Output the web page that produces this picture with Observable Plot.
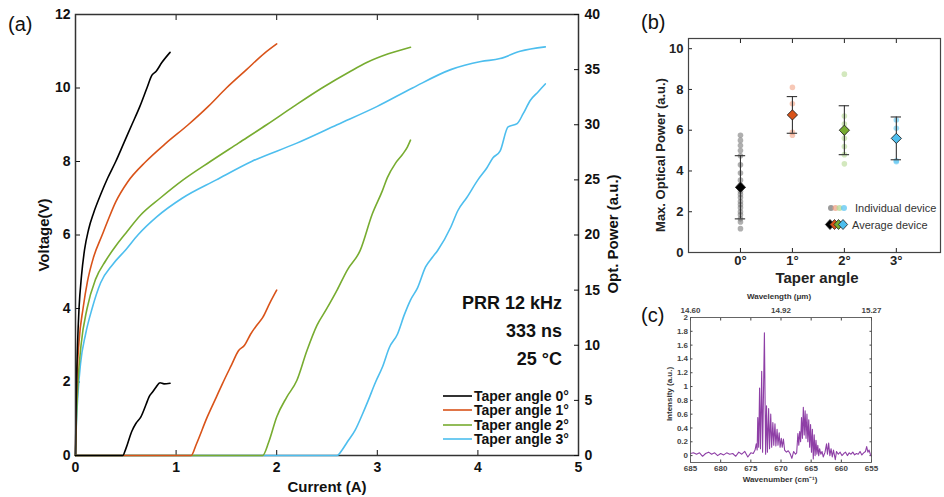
<!DOCTYPE html>
<html><head><meta charset="utf-8">
<script src="https://cdn.jsdelivr.net/npm/d3@7"></script>
<script src="https://cdn.jsdelivr.net/npm/@observablehq/plot@0.6"></script>
<style>
body{margin:0;background:#fff;overflow:hidden}
#root{position:relative;width:944px;height:497px;overflow:hidden;font-family:"Liberation Sans",Arial,sans-serif;background:#fff}
#root svg{position:absolute;overflow:visible}
.t{position:absolute;white-space:nowrap;line-height:1}
</style></head><body><div id="root"></div><script>
// ---------- Panel (a) data ----------
const seriesNames = ["Taper angle 0°", "Taper angle 1°", "Taper angle 2°", "Taper angle 3°"];
const seriesColors = ["#000000", "#D95319", "#77AC30", "#4DBEEE"];
const currentTicks = [0, 1, 2, 3, 4, 5];
const voltTicks = [0, 2, 4, 6, 8, 10, 12];
const powerTicks = [0, 5, 10, 15, 20, 25, 30, 35, 40];
// Voltage (V) vs current (A)
const voltBlack = [[0,0],[0.004,1.0],[0.01,2.0],[0.02,3.0],[0.035,4.0],[0.06,4.9],[0.09,5.6],[0.13,6.15],[0.18,6.6],[0.25,7.1],[0.32,7.55],[0.4,8.0],[0.48,8.5],[0.56,9.0],[0.64,9.5],[0.71,10.0],[0.76,10.35],[0.8,10.45],[0.86,10.7],[0.94,10.97]];
const voltOrange = [[0,0],[0.006,1.2],[0.016,2.2],[0.035,3.1],[0.075,4.0],[0.12,4.75],[0.18,5.4],[0.265,6.0],[0.33,6.45],[0.4,6.9],[0.52,7.45],[0.7,8.0],[0.9,8.5],[1.12,9.0],[1.32,9.5],[1.5,10.0],[1.7,10.5],[1.88,10.95],[2.0,11.2]];
const voltGreen = [[0,0],[0.008,0.9],[0.025,2.0],[0.055,3.0],[0.115,4.0],[0.2,4.8],[0.3,5.3],[0.4,5.7],[0.5,6.05],[0.65,6.55],[0.84,7.0],[1.07,7.5],[1.34,8.0],[1.62,8.5],[1.9,9.0],[2.17,9.5],[2.45,10.0],[2.73,10.45],[2.9,10.7],[3.11,10.93],[3.33,11.11]];
const voltBlue = [[0,0],[0.008,0.8],[0.025,1.7],[0.05,2.5],[0.1,3.3],[0.165,4.0],[0.25,4.7],[0.37,5.2],[0.5,5.6],[0.62,6.0],[0.81,6.5],[1.06,7.0],[1.4,7.5],[1.75,8.0],[2.2,8.5],[2.6,9.0],[3.0,9.5],[3.35,10.0],[3.73,10.5],[4.03,10.72],[4.22,10.8],[4.42,11.0],[4.67,11.12]];
// Optical power (a.u.) vs current (A)
const powBlack = [[0,0],[0.47,0],[0.5,0.6],[0.56,2.2],[0.6,2.9],[0.65,3.5],[0.7,4.6],[0.73,5.3],[0.77,5.8],[0.8,6.2],[0.84,6.6],[0.88,6.5],[0.94,6.55]];
const powOrange = [[0,0],[1.15,0],[1.2,1.0],[1.31,3.5],[1.4,5.3],[1.46,6.5],[1.55,8.2],[1.62,9.5],[1.68,10.0],[1.74,11.0],[1.8,11.8],[1.86,12.5],[1.93,13.8],[2.0,15.0]];
const powGreen = [[0,0],[1.86,0],[1.92,1.2],[2.0,3.5],[2.1,5.3],[2.2,6.8],[2.3,9.5],[2.4,11.8],[2.49,13.2],[2.6,15.0],[2.7,16.8],[2.83,18.6],[2.95,21.9],[3.05,24.0],[3.1,25.2],[3.18,26.5],[3.25,27.3],[3.3,28.0],[3.33,28.6]];
const powBlue = [[0,0],[2.6,0],[2.65,0.5],[2.7,1.2],[2.78,2.3],[2.85,3.7],[2.91,5.0],[2.98,6.6],[3.05,8.0],[3.12,9.8],[3.2,11.0],[3.27,12.8],[3.33,14.1],[3.4,15.2],[3.48,17.1],[3.55,18.0],[3.6,18.6],[3.73,20.7],[3.8,22.2],[3.89,23.4],[4.0,25.0],[4.09,26.1],[4.15,27.0],[4.22,27.6],[4.3,29.8],[4.39,30.1],[4.45,31.0],[4.52,32.2],[4.6,33.0],[4.67,33.7]];
const annotationLines = ["PRR 12 kHz", "333 ns", "25 °C"];

// ---------- Panel (b) data ----------
const angleValues = [0, 1, 2, 3];
const indiv0 = [1.17,1.5,1.65,1.85,2.0,2.2,2.35,2.5,2.7,2.85,3.0,3.3,3.55,3.9,4.3,4.75,5.0,5.25,5.5,5.75];
const indiv1 = [5.75,5.9,6.8,7.3,8.1];
const indiv2 = [4.35,4.8,5.2,5.6,5.9,6.3,6.7,8.75];
const indiv3 = [4.45,4.5,6.1,6.5];
const avgPower = [3.2, 6.75, 6.0, 5.6];
const sdPower = [1.55, 0.9, 1.2, 1.05];
const indivColors = ["#7a7a7a", "#F2A385", "#B5D993", "#5CC6F2"];
const avgColors = ["#000000", "#D95319", "#77AC30", "#4DBEEE"];
const bTicksY = [0, 2, 4, 6, 8, 10];

// ---------- Panel (c) data ----------
const wnTicks = [685, 680, 675, 670, 665, 660, 655];
const wlTickWn = [685, 670, 655];
const wlLabels = ["14.60", "14.92", "15.27"];
const intTicks = [0, 0.2, 0.4, 0.6, 0.8, 1, 1.2, 1.4, 1.6, 1.8, 2];
const spectrum = [[685,0.03],[684.5,0.04],[684,0.02],[683.5,0.04],[683,-0.01],[682.5,0.03],[682,0.05],[681.5,0.02],[681,0.04],[680.5,0.0],[680,0.03],[679.5,0.01],[679,0.04],[678.5,0.02],[678,0.03],[677.5,-0.01],[677,0.05],[676.5,0.02],[676,0.06],[675.5,-0.02],[675,0.04],[674.6,0.03],[674.3,0.08],
[674.1,0.17],[673.95,0.08],[673.85,0.55],[673.7,0.12],[673.55,0.98],[673.4,0.1],[673.2,1.22],[673.05,0.05],[672.75,1.78],[672.55,0.02],[672.4,0.72],[672.25,0.05],[672.05,0.68],[671.9,0.1],[671.7,0.6],[671.55,0.12],[671.35,0.48],[671.2,0.15],[671.0,0.46],[670.85,0.14],[670.65,0.38],[670.5,0.15],[670.3,0.33],[670.15,0.12],[669.95,0.25],[669.8,0.12],[669.6,0.24],[669.4,0.08],[669.1,0.05],[668.8,0.07],[668.5,0.03],[668.2,-0.04],[667.9,0.06],[667.6,0.02],[667.4,0.04],
[667.2,0.32],[667.05,0.15],[666.9,0.35],[666.75,0.2],[666.6,0.55],[666.45,0.25],[666.3,0.7],[666.15,0.3],[666.0,0.65],[665.85,0.25],[665.7,0.6],[665.55,0.2],[665.4,0.52],[665.25,0.12],[665.1,0.45],[664.95,0.05],[664.8,0.38],[664.65,-0.05],[664.5,0.3],[664.35,0.0],[664.2,0.22],[664.05,0.02],[663.9,0.15],[663.75,0.0],[663.6,0.1],[663.4,0.02],[663.2,0.06],[663.0,-0.02],[662.7,0.05],[662.45,0.17],[662.3,0.02],[662.1,0.18],[661.9,0.0],[661.7,0.1],[661.5,-0.02],[661.3,0.08],[661.0,-0.06],[660.8,0.06],[660.5,0.02],[660.2,0.05],[659.9,0.0],[659.6,0.03],[659.3,0.05],[659.0,0.0],[658.7,0.04],[658.4,0.02],[658.1,0.05],[657.8,0.01],[657.5,0.03],[657.2,0.02],[656.9,0.06],[656.6,0.01],[656.3,0.04],[656.0,0.06],[655.8,0.13],[655.6,0.05],[655.4,0.08],[655.2,0.02],[655.0,-0.01]];

// ---------- build ----------
const root = document.getElementById("root");
const FONT = "Liberation Sans, Arial, sans-serif";
function place(svg, left, top) { svg.style.left = left + "px"; svg.style.top = top + "px"; root.appendChild(svg); }
function label(txt, x, y, o = {}) {
  const d = document.createElement("div");
  d.className = "t"; d.textContent = txt;
  const tx = o.anchor === "end" ? "-100%" : o.anchor === "start" ? "0" : "-50%";
  d.style.left = x + "px"; d.style.top = y + "px";
  d.style.fontSize = (o.size || 14) + "px";
  d.style.fontWeight = o.weight || "bold";
  d.style.color = o.color || "#111";
  d.style.transform = `translate(${tx},-50%)` + (o.rotate ? ` rotate(${o.rotate}deg)` : "");
  root.appendChild(d);
}
const rows = (pts, s) => pts.map(([i, v]) => ({s, i, v}));
const vRows = [voltBlue, voltGreen, voltOrange, voltBlack].flatMap((p, k) => rows(p, seriesNames[3 - k]));
const pRows = [powBlue, powGreen, powOrange, powBlack].flatMap((p, k) => rows(p, seriesNames[3 - k]));
const styleA = {background: "transparent", fontFamily: FONT, fontSize: "14px", fontWeight: "bold", color: "#111", overflow: "visible"};

const a1 = Plot.plot({
  width: 620, height: 497, marginLeft: 75, marginRight: 42, marginTop: 14, marginBottom: 42,
  style: styleA,
  x: {domain: [0, 5]}, y: {domain: [0, 12]},
  color: {domain: seriesNames, range: seriesColors},
  marks: [
    Plot.axisX({ticks: currentTicks, tickSize: -5, tickPadding: 12, tickFormat: d => String(d), label: null}),
    Plot.axisX({anchor: "top", ticks: currentTicks, tickSize: -5, tickFormat: () => "", label: null}),
    Plot.axisY({ticks: voltTicks, tickSize: -5, tickPadding: 10, tickFormat: d => String(d), label: null}),
    Plot.line(vRows, {x: "i", y: "v", z: "s", stroke: "s", strokeWidth: 1.6, curve: "monotone-x"}),
    Plot.frame({stroke: "#333", strokeWidth: 1.5})
  ]
});
place(a1, 0, 0);
const a2 = Plot.plot({
  width: 620, height: 497, marginLeft: 75, marginRight: 42, marginTop: 14, marginBottom: 42,
  style: styleA,
  x: {domain: [0, 5], axis: null}, y: {domain: [0, 40]},
  color: {domain: seriesNames, range: seriesColors},
  marks: [
    Plot.axisY({anchor: "right", ticks: powerTicks, tickSize: -5, tickPadding: 11, tickFormat: d => String(d), label: null}),
    Plot.line(pRows, {x: "i", y: "v", z: "s", stroke: "s", strokeWidth: 1.6, curve: "monotone-x"})
  ]
});
place(a2, 0, 0);

label("(a)", 8, 24, {anchor: "start", size: 20, weight: "normal"});
label("Voltage(V)", 43, 235, {size: 15, rotate: -90});
label("Current (A)", 327, 486, {size: 15});
label("Opt. Power (a.u.)", 612, 234, {size: 15, rotate: -90});
annotationLines.forEach((t, k) => label(t, 562, 303 + k * 28, {anchor: "end", size: 18}));
// legend (a)
seriesNames.forEach((n, k) => {
  const y = 396 + k * 14.4;
  const sw = document.createElementNS("http://www.w3.org/2000/svg", "svg");
  sw.setAttribute("width", 30); sw.setAttribute("height", 4);
  sw.innerHTML = `<line x1="0" x2="29" y1="2" y2="2" stroke="${seriesColors[k]}" stroke-width="1.6"/>`;
  place(sw, 443, y - 2);
  label(n, 474, y, {anchor: "start", size: 14});
});

// ---------- Panel (b) ----------
const indivRows = [indiv0, indiv1, indiv2, indiv3].flatMap((arr, k) => arr.map(v => ({a: angleValues[k], v, c: indivColors[k]})));
const avgRows = angleValues.map((a, k) => ({a, m: avgPower[k], lo: avgPower[k] - sdPower[k], hi: avgPower[k] + sdPower[k], c: avgColors[k]}));
const b = Plot.plot({
  width: 324, height: 280, marginLeft: 68, marginRight: 4, marginTop: 38, marginBottom: 28,
  style: {background: "transparent", fontFamily: FONT, fontSize: "13px", fontWeight: "bold", color: "#222", overflow: "visible"},
  x: {domain: [-1, 3.85]}, y: {domain: [0, 10.5]},
  marks: [
    Plot.axisY({ticks: bTicksY, tickSize: -4, tickPadding: 9, tickFormat: d => String(d), label: null}),
    Plot.axisX({ticks: angleValues, tickSize: -4, tickPadding: 7, tickFormat: d => d + "°", label: null}),
    Plot.axisX({anchor: "top", ticks: angleValues, tickSize: -4, tickFormat: () => "", label: null}),
    Plot.dot(indivRows, {x: "a", y: "v", r: 2.8, fill: "c", fillOpacity: 0.6}),
    Plot.ruleX(avgRows, {x: "a", y1: "lo", y2: "hi", stroke: "#333", strokeWidth: 1.1}),
    Plot.ruleY(avgRows, {y: "hi", x1: d => d.a - 0.1, x2: d => d.a + 0.1, stroke: "#333", strokeWidth: 1.1}),
    Plot.ruleY(avgRows, {y: "lo", x1: d => d.a - 0.1, x2: d => d.a + 0.1, stroke: "#333", strokeWidth: 1.1}),
    Plot.dot(avgRows, {x: "a", y: "m", symbol: "diamond2", r: 4.6, fill: "c", stroke: "#222", strokeWidth: 0.9}),
    Plot.frame({stroke: "#444", strokeWidth: 1.2})
  ]
});
place(b, 620, 0);
label("(b)", 641, 22, {anchor: "start", size: 20, weight: "normal"});
label("Max. Optical Power (a.u.)", 660, 155, {size: 13, rotate: -90, color: "#222"});
label("Taper angle", 817, 277, {size: 15, color: "#222"});
// legend (b)
{
  const sw = document.createElementNS("http://www.w3.org/2000/svg", "svg");
  sw.setAttribute("width", 22); sw.setAttribute("height", 30);
  const dx = [3, 7.5, 11.5, 16];
  sw.innerHTML = indivColors.map((c, k) => `<circle cx="${dx[k]}" cy="6" r="3" fill="${c}" fill-opacity="0.75"/>`).join("") +
    avgColors.map((c, k) => `<path d="M${dx[k] - 1},17.5 l4.6,5 l-4.6,5 l-4.6,-5z" fill="${c}" stroke="#222" stroke-width="0.8"/>`).join("");
  place(sw, 828, 202);
  label("Individual device", 855, 208, {anchor: "start", size: 11, weight: "normal", color: "#333"});
  label("Average device", 852, 225, {anchor: "start", size: 11, weight: "normal", color: "#333"});
}

// ---------- Panel (c) ----------
const c = Plot.plot({
  width: 324, height: 217, marginLeft: 70, marginRight: 73, marginTop: 37, marginBottom: 35,
  style: {background: "transparent", fontFamily: FONT, fontSize: "8px", fontWeight: "bold", color: "#444", overflow: "visible"},
  x: {domain: [685, 655]}, y: {domain: [-0.1, 2]},
  marks: [
    Plot.axisX({ticks: wnTicks, tickSize: -2.5, tickPadding: 5, label: null}),
    Plot.axisX({anchor: "top", ticks: wnTicks, tickSize: -2.5, tickFormat: () => "", label: null}),
    Plot.axisX({anchor: "top", ticks: wlTickWn, tickSize: 0, tickPadding: 5, tickFormat: d => wlLabels[wlTickWn.indexOf(d)], label: null}),
    Plot.axisY({ticks: intTicks, tickSize: -2.5, tickPadding: 5, tickFormat: d => String(d), label: null}),
    Plot.axisY({anchor: "right", ticks: intTicks, tickSize: -2.5, tickFormat: () => "", label: null}),
    Plot.line(spectrum, {x: d => d[0], y: d => d[1], stroke: "#8E3FA6", strokeWidth: 1.1}),
    Plot.frame({stroke: "#555", strokeWidth: 0.9})
  ]
});
place(c, 620, 280);
label("(c)", 641, 315, {anchor: "start", size: 20, weight: "normal"});
label("Wavelength (μm)", 779, 297, {size: 8, color: "#333"});
label("Wavenumber (cm⁻¹)", 780, 480, {size: 8, color: "#333"});
label("Intensity (a.u.)", 670, 394, {size: 8, rotate: -90, color: "#333"});
</script></body></html>
